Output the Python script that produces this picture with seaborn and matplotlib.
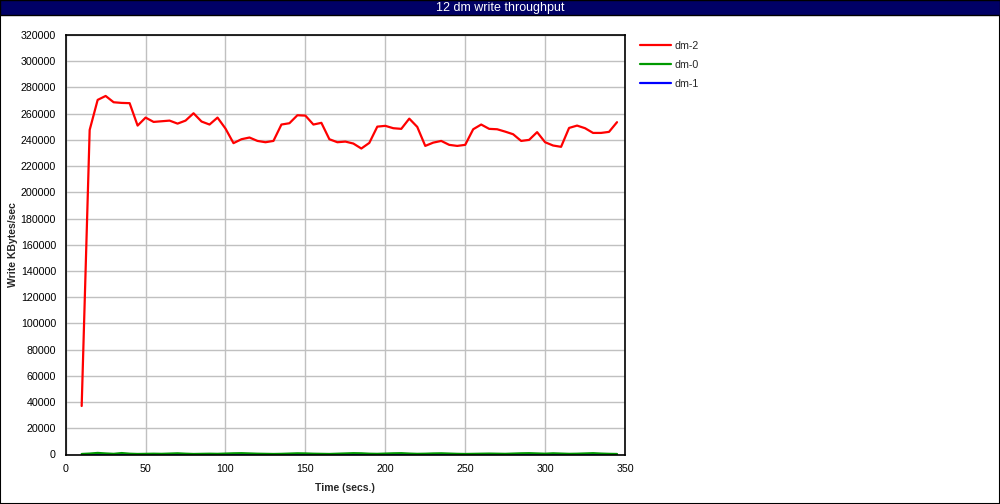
import seaborn as sns
import pandas as pd
import numpy as np
import matplotlib.pyplot as plt
from matplotlib.patches import Rectangle

# sample times (secs.)
times = [10, 15, 20, 25, 30, 35, 40, 45, 50, 55, 60, 65, 70, 75, 80, 85, 90, 95,
         100, 105, 110, 115, 120, 125, 130, 135, 140, 145, 150, 155, 160, 165,
         170, 175, 180, 185, 190, 195, 200, 205, 210, 215, 220, 225, 230, 235,
         240, 245, 250, 255, 260, 265, 270, 275, 280, 285, 290, 295, 300, 305,
         310, 315, 320, 325, 330, 335, 340, 345]

dm2 = [37000, 247600, 270500, 273500, 268700, 268200, 268000, 250900, 257000,
       253700, 254200, 254700, 252400, 254700, 260300, 254000, 251700, 257000,
       248600, 237500, 240500, 241800, 239200, 238200, 239200, 251700, 252700,
       258800, 258500, 251700, 253000, 240500, 238200, 238700, 237200, 233400,
       237700, 250100, 250700, 248900, 248400, 256200, 249900, 235400, 237900,
       239200, 236200, 235400, 236200, 248100, 251700, 248400, 248100, 246300,
       244300, 239200, 240000, 245900, 238200, 235700, 234700, 249100, 250900,
       248900, 245300, 245300, 246100, 253500]

dm0 = [400, 700, 1200, 800, 500, 1100, 600, 400, 500, 600, 500, 700, 900, 600,
       400, 500, 600, 500, 700, 900, 1000, 800, 600, 500, 400, 500, 700, 900,
       800, 600, 500, 400, 600, 800, 1000, 900, 600, 500, 700, 900, 1000, 700,
       500, 600, 800, 900, 700, 500, 400, 500, 600, 700, 600, 500, 700, 900,
       1000, 800, 600, 900, 700, 500, 600, 800, 1000, 700, 500, 400]

dm1 = [0] * len(times)

series = {'dm-2': (dm2, '#ff0000'), 'dm-0': (dm0, '#009900'), 'dm-1': (dm1, '#0000ff')}
draw_order = ['dm-1', 'dm-0', 'dm-2']
legend_order = ['dm-2', 'dm-0', 'dm-1']

sns.set_style('white')
plt.rcParams['font.family'] = ['Liberation Sans', 'DejaVu Sans']

fig = plt.figure(figsize=(10, 5.04), dpi=100)
W, H = 1000, 504

# outer border and title bar
fig.patches.append(Rectangle((0, 0), 1, 1, transform=fig.transFigure, fill=False,
                             edgecolor='black', linewidth=1.5))
fig.patches.append(Rectangle((0, 1 - 15 / H), 1, 15 / H, transform=fig.transFigure,
                             facecolor='#000066', edgecolor='black', linewidth=1))
fig.text(0.5, 1 - 7.5 / H, '12 dm write throughput', color='white', fontsize=9,
         ha='center', va='center')

ax = fig.add_axes([65.7 / W, 1 - 454.5 / H, (625 - 65.7) / W, (454.5 - 35) / H])

df = pd.DataFrame({'time': times})
handles = {}
for name in draw_order:
    vals, color = series[name]
    df[name] = vals
    sns.lineplot(data=df, x='time', y=name, ax=ax, color=color, linewidth=1.6,
                 label=name, legend=False)
    handles[name] = ax.lines[-1]

ax.set_xlim(0, 350)
ax.set_ylim(0, 320000)
ax.set_xticks(np.arange(0, 351, 50))
ax.set_yticks(np.arange(0, 320001, 20000))
ax.grid(True, color='#c0c0c0', linewidth=1)
ax.set_axisbelow(True)
for s in ax.spines.values():
    s.set_color('black')
    s.set_linewidth(1.2)
ax.tick_params(axis='both', direction='out', length=5, width=1, labelsize=7.7,
               pad=2, colors='black')
ax.set_xlabel('Time (secs.)', fontsize=7.5, fontweight='bold', labelpad=6)
ax.set_ylabel('Write KBytes/sec', fontsize=7.5, fontweight='bold', labelpad=2)

fig.legend([handles[n] for n in legend_order], legend_order, loc='upper left',
           bbox_to_anchor=(630 / W, 1 - 31 / H), frameon=False, fontsize=7.7,
           handlelength=2.9, handletextpad=0.35, labelspacing=0.85)

fig.savefig('out.png', dpi=100)
